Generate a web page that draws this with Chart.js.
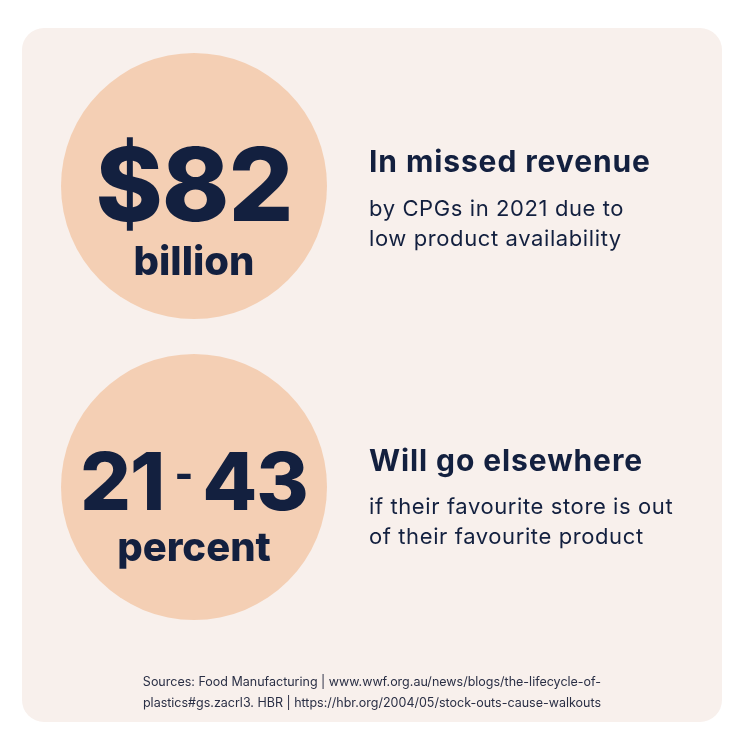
<!DOCTYPE html>
<html>
<head>
<meta charset="utf-8">
<script src="https://cdn.jsdelivr.net/npm/chart.js@4/dist/chart.umd.min.js"></script>
<style>
  body { margin: 0; background: #fff; width: 749px; height: 751px; position: relative; font-family: Inter, "Open Sans", sans-serif; color: #13203f; }
  #card { position: absolute; left: 22px; top: 28px; width: 700px; height: 694px; background: #f8f0ec; border-radius: 22px; }
  #chart { position: absolute; left: 22px; top: 28px; }
  .t { position: absolute; white-space: nowrap; }
  .big { font-weight: 800; text-align: center; width: 300px; left: 44px; letter-spacing: -1px; }
  .head { font-weight: 700; font-size: 30px; left: 369px; letter-spacing: 0.9px; }
  .sub { font-size: 22px; left: 369px; line-height: 30px; letter-spacing: 0.6px; }
  .src { font-size: 12.5px; width: 700px; left: 22px; text-align: center; line-height: 21px; color: #2a2f45; }
</style>
</head>
<body>
<div id="card"></div>
<canvas id="chart" width="700" height="694"></canvas>

<div class="t big" style="top:122px;font-size:102px;">$82</div>
<div class="t big" style="top:236px;font-size:40px;letter-spacing:0">billion</div>
<div class="t head" style="top:143px;">In missed revenue</div>
<div class="t sub" style="top:193px;">by CPGs in 2021 due to<br>low product availability</div>

<div class="t big" style="top:432px;font-size:80px;">21<span style="font-size:40px;vertical-align:22px;margin:0 10px">-</span>43</div>
<div class="t big" style="top:522px;font-size:40px;letter-spacing:0">percent</div>
<div class="t head" style="top:442px;">Will go elsewhere</div>
<div class="t sub" style="top:491px;">if their favourite store is out<br>of their favourite product</div>

<div class="t src" style="top:671px;">Sources: Food Manufacturing | www.wwf.org.au/news/blogs/the-lifecycle-of-<br>plastics#gs.zacrl3. HBR | https://hbr.org/2004/05/stock-outs-cause-walkouts</div>

<script>
// bubble centres in card coordinates, radius in pixels
const statLabels = ['$82 billion', '21-43 percent'];
const bubbleX = [172, 172];
const bubbleY = [158, 459];
const bubbleR = [133, 133];

// chart.js pads the chart area by the biggest radius, so the scale
// range is shrunk by the same amount to keep card pixels = data units
const pad = Math.max(...bubbleR);

new Chart(document.getElementById('chart'), {
  type: 'bubble',
  data: {
    datasets: [{
      label: 'stats',
      data: statLabels.map((l, i) => ({ x: bubbleX[i], y: bubbleY[i], r: bubbleR[i] })),
      backgroundColor: '#f4cfb4',
      borderWidth: 0,
      clip: false
    }]
  },
  options: {
    responsive: false,
    animation: false,
    layout: { padding: 0 },
    scales: {
      x: { display: false, min: pad, max: 700 - pad },
      y: { display: false, min: pad, max: 694 - pad, reverse: true }
    },
    plugins: { legend: { display: false }, tooltip: { enabled: false } }
  }
});
</script>
</body>
</html>
